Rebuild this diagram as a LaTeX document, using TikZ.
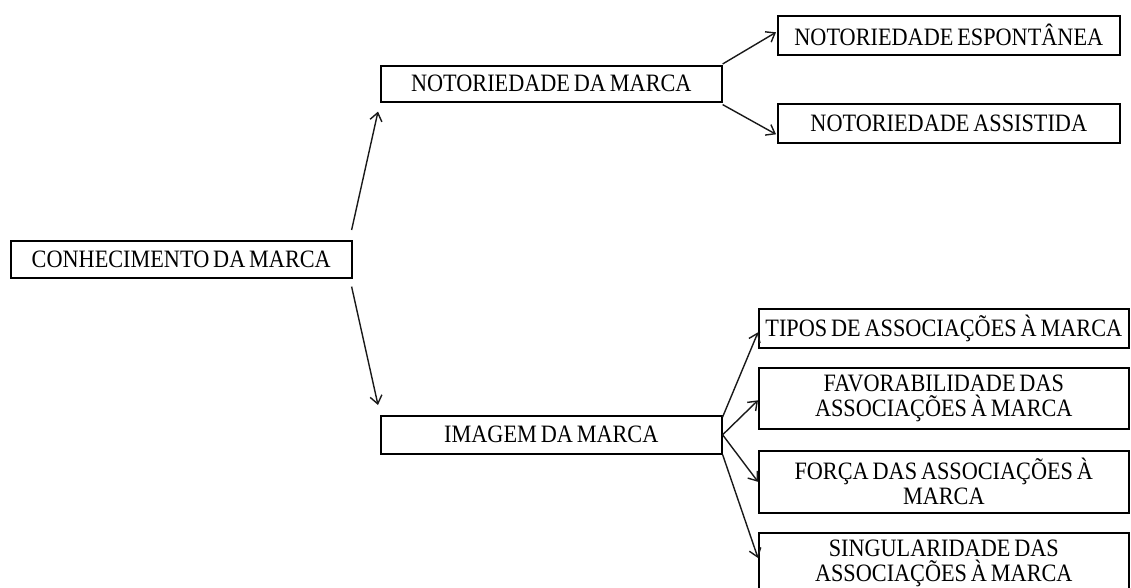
\documentclass[tikz,border=0pt]{standalone}
\usepackage{fontspec}
\setmainfont[FakeStretch=0.89,WordSpace=0.7]{Liberation Serif}
\usetikzlibrary{arrows.meta}

\begin{document}
\begin{tikzpicture}[x=1pt,y=-1pt,
  box/.style={draw=black, line width=1.6pt, anchor=north west, inner sep=0pt,
    align=center, font=\fontsize{25}{25}\selectfont},
  link/.style={draw=black!90, line width=1.4pt,
    -{Straight Barb[length=8pt,width=12pt,line width=1.4pt]}}]
\useasboundingbox (0,0) rectangle (1131,588);

% root and the two main branches
\node[box, minimum width=341pt, minimum height=37pt] (con)  at (10,240)  {CONHECIMENTO DA MARCA};
\node[box, minimum width=341pt, minimum height=36pt] (noto) at (380,65)  {NOTORIEDADE DA MARCA};
\node[box, minimum width=341pt, minimum height=38pt] (img)  at (380,415) {IMAGEM DA MARCA};

% awareness
\node[box, minimum width=342pt, minimum height=39pt] (esp) at (777,15)  {NOTORIEDADE ESPONTÂNEA};
\node[box, minimum width=342pt, minimum height=39pt] (ass) at (777,103) {NOTORIEDADE ASSISTIDA};

% image
\node[box, minimum width=370pt, minimum height=39pt] (tip)  at (758,308) {TIPOS DE ASSOCIAÇÕES À MARCA};
\node[box, minimum width=370pt, minimum height=61pt] (fav)  at (758,367) {FAVORABILIDADE DAS\\ASSOCIAÇÕES À MARCA};
\node[box, minimum width=370pt, minimum height=62pt] (forc) at (758,450) {FORÇA DAS ASSOCIAÇÕES À\\MARCA};
\node[box, minimum width=370pt, minimum height=62pt] (sing) at (758,532) {SINGULARIDADE DAS\\ASSOCIAÇÕES À MARCA};

% connectors
\draw[link] ([xshift=-1pt,yshift=10pt]con.north east) -- ([xshift=-2pt,yshift=-9pt]noto.south west);
\draw[link] ([xshift=-1pt,yshift=-8pt]con.south east) -- ([xshift=-2pt,yshift=10pt]img.north west);

\draw[link] ([yshift=1pt]noto.north east) -- ([xshift=-1pt,yshift=3pt]esp.west);
\draw[link] ([yshift=-2pt]noto.south east) -- ([xshift=-1pt,yshift=-11pt]ass.west);

\draw[link] ([yshift=-2pt]img.north east) -- ([yshift=-4pt]tip.west);
\draw[link] (img.east) -- ([yshift=-2pt]fav.west);
\draw[link] (img.east) -- (forc.west);
\draw[link] (img.south east) -- ([yshift=-26pt]sing.north west);
\end{tikzpicture}
\end{document}
